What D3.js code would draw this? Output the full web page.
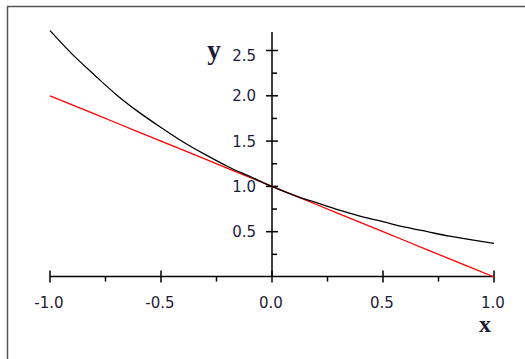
<!DOCTYPE html>
<html>
<head>
<meta charset="utf-8">
<script src="https://cdn.jsdelivr.net/npm/d3@7"></script>
<style>
  body { margin: 0; background: #fff; }
  svg { display: block; }
</style>
</head>
<body>
<script>
// values
const xs = [-1.0, -0.9, -0.8, -0.7, -0.6, -0.5, -0.4, -0.3, -0.2, -0.1, 0.0,
            0.1, 0.2, 0.3, 0.4, 0.5, 0.6, 0.7, 0.8, 0.9, 1.0];
const blackY = [2.72, 2.46, 2.23, 2.01, 1.82, 1.65, 1.49, 1.35, 1.22, 1.11, 1.00,
                0.90, 0.82, 0.74, 0.67, 0.61, 0.55, 0.50, 0.45, 0.41, 0.37];
const redY = [2.0, 1.9, 1.8, 1.7, 1.6, 1.5, 1.4, 1.3, 1.2, 1.1, 1.0,
              0.9, 0.8, 0.7, 0.6, 0.5, 0.4, 0.3, 0.2, 0.1, 0.0];
const xTicks = [-1.0, -0.5, 0.0, 0.5, 1.0];
const xMinor = [-0.75, -0.25, 0.25, 0.75];
const yTicks = [0.5, 1.0, 1.5, 2.0, 2.5];
const yMinor = [0.25, 0.75, 1.25, 1.75, 2.25];

const width = 525, height = 359;
const svg = d3.select("body").append("svg")
  .attr("width", width)
  .attr("height", height);

// window frame
svg.append("path")
  .attr("d", `M7.5,${height} V6.5 H${width}`)
  .attr("fill", "none")
  .attr("stroke", "#555")
  .attr("stroke-width", 1.5);

const x = d3.scaleLinear().domain([-1, 1]).range([50, 494]);
const y = d3.scaleLinear().domain([0, 2.5]).range([277, 50.5]);

const x0 = x(0), y0 = 276.5;

// x axis
const gx = svg.append("g").attr("stroke", "#000").attr("stroke-width", 1.5);
gx.append("line").attr("x1", x(-1)).attr("x2", x(1)).attr("y1", y0).attr("y2", y0);
gx.selectAll(".maj").data(xTicks).join("line")
  .attr("x1", d => x(d)).attr("x2", d => x(d))
  .attr("y1", y0 - 6).attr("y2", y0 + 6);
gx.selectAll(".min").data(xMinor).join("line")
  .attr("x1", d => x(d)).attr("x2", d => x(d))
  .attr("y1", y0).attr("y2", y0 + 5);

// y axis
const gy = svg.append("g").attr("stroke", "#000").attr("stroke-width", 1.5);
gy.append("line").attr("x1", x0).attr("x2", x0).attr("y1", 32).attr("y2", y0);
gy.selectAll(".maj").data(yTicks).join("line")
  .attr("x1", x0 - 6).attr("x2", x0 + 6)
  .attr("y1", d => y(d)).attr("y2", d => y(d));
gy.selectAll(".min").data(yMinor).join("line")
  .attr("x1", x0).attr("x2", x0 + 5)
  .attr("y1", d => y(d)).attr("y2", d => y(d));

const fmt = d => d.toFixed(1);
const labelFont = "DejaVu Sans";

svg.append("g").selectAll("text").data(xTicks).join("text")
  .attr("x", d => x(d) - 1)
  .attr("y", 308)
  .attr("text-anchor", "middle")
  .attr("font-family", labelFont)
  .attr("font-size", 15)
  .attr("fill", "#221c38")
  .text(d => fmt(d));

// top label sits on the same row as the "y" title
svg.append("g").selectAll("text").data(yTicks).join("text")
  .attr("x", x0 - 16)
  .attr("y", d => Math.max(y(d), 55) + 5.5)
  .attr("text-anchor", "end")
  .attr("font-family", labelFont)
  .attr("font-size", 15)
  .attr("fill", "#221c38")
  .text(d => fmt(d));

// axis titles
svg.append("text")
  .attr("x", 214).attr("y", 59)
  .attr("text-anchor", "middle")
  .attr("font-family", "Liberation Serif")
  .attr("font-weight", "bold")
  .attr("font-size", 27)
  .attr("fill", "#1e1a36")
  .text("y");

svg.append("text")
  .attr("x", 485).attr("y", 332)
  .attr("text-anchor", "middle")
  .attr("font-family", "Liberation Serif")
  .attr("font-weight", "bold")
  .attr("font-size", 24)
  .attr("fill", "#1e1a36")
  .text("x");

// curves
const line = d3.line().x(d => x(d[0])).y(d => y(d[1]));

svg.append("path")
  .datum(xs.map((v, i) => [v, redY[i]]))
  .attr("d", line)
  .attr("fill", "none")
  .attr("stroke", "#f00")
  .attr("stroke-width", 1.3);

svg.append("path")
  .datum(xs.map((v, i) => [v, blackY[i]]))
  .attr("d", line.curve(d3.curveMonotoneX))
  .attr("fill", "none")
  .attr("stroke", "#000")
  .attr("stroke-width", 1.3);
</script>
</body>
</html>
